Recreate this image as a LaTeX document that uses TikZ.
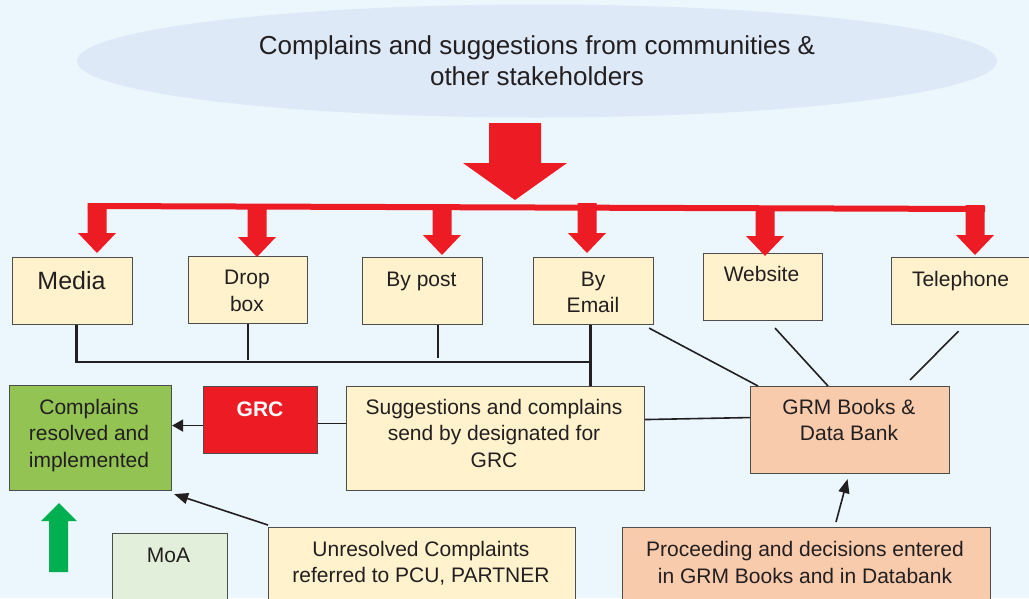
\documentclass[tikz,border=0pt]{standalone}
\usepackage{fontspec}
\setmainfont{Liberation Sans}
\usetikzlibrary{shapes.geometric,arrows.meta,calc}
\definecolor{bgc}{HTML}{ECF6FD}
\definecolor{ellc}{HTML}{DDE9F7}
\definecolor{redc}{HTML}{ED1C24}
\definecolor{yelc}{HTML}{FFF2CC}
\definecolor{grnc}{HTML}{92C353}
\definecolor{salc}{HTML}{F8CBAD}
\definecolor{moac}{HTML}{E2EFDA}
\definecolor{arrg}{HTML}{00B050}
\definecolor{txtc}{HTML}{231F20}
\definecolor{brdc}{HTML}{4D4D4D}
\begin{document}
\begin{tikzpicture}[x=1pt,y=-1pt,
  box/.style={draw=brdc, line width=1.1pt, rectangle, anchor=north west, inner sep=0pt},
  lbl/.style={inner sep=0pt, align=center, text=txtc, font=\fontsize{21}{26.5}\selectfont},
  conn/.style={draw=txtc, line width=1.6pt},
  bus/.style={draw=txtc, line width=2.3pt},
  arr/.style={draw=txtc, line width=1.6pt, -{Triangle[length=11pt,width=12pt]}},
  redarrow/.pic={\fill[redc] (-9.5,-50) -- (9.5,-50) -- (9.5,-20) -- (19,-20) -- (0,0) -- (-19,-20) -- (-9.5,-20) -- cycle;}
]
\useasboundingbox (0,0) rectangle (1029,598);
\fill[bgc] (0,0) rectangle (1029,598);

% source ellipse
\node[ellipse, fill=ellc, minimum width=920pt, minimum height=113pt, inner sep=0pt,
      align=center, text=txtc, font=\fontsize{26}{31}\selectfont] (src) at (537,61)
  {Complains and suggestions from communities \&\\other stakeholders};

% big red arrow and bar
\fill[redc] (489,123) -- (541,123) -- (541,163) -- (567,163) -- (515,200) -- (463,163) -- (489,163) -- cycle;
\draw[redc, line width=6pt] (88,206) -- (985,209);

% channel boxes
\node[box, fill=yelc, minimum width=120pt, minimum height=67pt] (media) at (12,257) {};
\node[box, fill=yelc, minimum width=119pt, minimum height=67pt] (drop) at (188,256) {};
\node[box, fill=yelc, minimum width=120pt, minimum height=67pt] (post) at (362,257) {};
\node[box, fill=yelc, minimum width=120pt, minimum height=67pt] (email) at (533,257) {};
\node[box, fill=yelc, minimum width=119pt, minimum height=67pt] (web) at (703,253) {};
\node[box, fill=yelc, minimum width=140pt, minimum height=67pt] (tel) at (891,257) {};

\node[lbl, font=\fontsize{25}{30}\selectfont] (media-t) at (71.5,281) {Media};
\node[lbl] (drop-t) at (247,291) {Drop\\box};
\node[lbl] (post-t) at (421.5,281.5) {By post};
\node[lbl] (email-t) at (593,292.5) {By\\Email};
\node[lbl] (web-t) at (761.5,274) {Website};
\node[lbl] (tel-t) at (960.5,281) {Telephone};

% small red arrows
\pic at (97,253) {redarrow};
\pic at (257,257) {redarrow};
\pic at (442,255) {redarrow};
\pic at (587,253) {redarrow};
\pic at (765,256) {redarrow};
\pic at (975,255) {redarrow};

% second row
\node[box, fill=grnc, minimum width=162pt, minimum height=105pt] (green) at (9,385) {};
\node[box, fill=redc, minimum width=114pt, minimum height=67pt] (grc) at (203,386) {};
\node[box, fill=yelc, minimum width=298pt, minimum height=104pt] (sugg) at (346,386) {};
\node[box, fill=salc, minimum width=199pt, minimum height=87pt] (grm) at (750,386) {};

\node[lbl] (green-t) at (89,435.5) {Complains\\resolved and\\implemented};
\node[lbl, text=white, font=\fontsize{21}{26.5}\selectfont\bfseries] (grc-t) at (260,409) {GRC};
\node[lbl] (sugg-t) at (494,433) {Suggestions and complains\\send by designated for\\GRC};
\node[lbl] (grm-t) at (849,420) {GRM Books \&\\Data Bank};

% third row
\fill[arrg] (59,503) -- (77,521) -- (68,521) -- (68,572) -- (49,572) -- (49,521) -- (41,521) -- cycle;
\node[box, fill=moac, minimum width=115pt, minimum height=90pt] (moa) at (112,533) {};
\node[box, fill=yelc, minimum width=307pt, minimum height=90pt] (unres) at (268,527) {};
\node[box, fill=salc, minimum width=368pt, minimum height=90pt] (proc) at (622,527) {};

\node[lbl] (moa-t) at (168.5,555) {MoA};
\node[lbl] (unres-t) at (421,563) {Unresolved Complaints\\referred to PCU, PARTNER};
\node[lbl] (proc-t) at (805,562.5) {Proceeding and decisions entered\\in GRM Books and in Databank};

% collecting bus
\coordinate (busend) at (590,362);
\draw[bus] ([xshift=4pt]media.south) |- (busend);
\draw[bus] (drop.south) -- ++(0,36);
\draw[conn] ([xshift=15.5pt]post.south) -- ++(0,33);
\draw[bus] ([xshift=-3pt]email.south) -- ([xshift=-3pt]email.south |- sugg.north);

% lines to GRM
\draw[conn] ([shift={(-5,3)}]email.south east) -- ([xshift=8pt]grm.north west);
\draw[conn] ([shift={(12,7)}]web.south) -- ([xshift=78pt]grm.north west);
\draw[conn] ([shift={(-3,6)}]tel.south) -- ([shift={(-40,-6)}]grm.north east);

% row connectors
\draw[arr] ([yshift=-5.5pt]grc.west) -- ([yshift=-5.5pt]grc.west -| green.east);
\draw[conn] ([yshift=-3.5pt]grc.east) -- ([yshift=-3.5pt]grc.east -| sugg.west);
\draw[conn] ([yshift=19pt]sugg.east) -- ([yshift=12.5pt]grm.west);
\draw[arr, -{Triangle[length=14pt,width=11pt]}] ([shift={(0,-2)}]unres.north west) -- ([shift={(2,3)}]green.south east);
\draw[arr, -{Triangle[length=14pt,width=11pt]}] ([shift={(214,-5)}]proc.north west) -- ([shift={(-2.5,5)}]grm.south);
\end{tikzpicture}
\end{document}
